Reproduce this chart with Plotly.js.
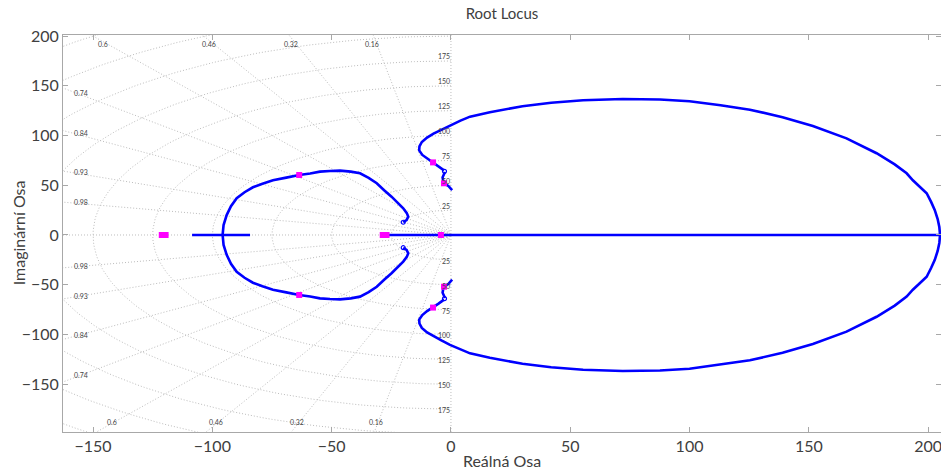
<!DOCTYPE html>
<html>
<head>
<meta charset="utf-8">
<script src="https://cdn.plot.ly/plotly-3.0.1.min.js"></script>
<style>
  html, body { margin: 0; padding: 0; background: #fff; }
  #plot { width: 941px; height: 470px; }
</style>
</head>
<body>
<div id="plot"></div>
<script>
// ---- root locus branches (real, imag) ----
// upper half of the large loop, from the end near the origin out to the real-axis crossing
const bigLoopRe = [-2.9, -5.2, -7.5, -10, -12, -13.3, -13.2, -12.2, -10, -7.3, -4, -0.4, 4, 8, 16.3, 30, 42, 55.4, 72, 87.6, 100, 113, 125.3, 139, 151.7, 165.8, 178.4, 186, 191, 193.6, 196.5, 199.4, 201.3, 202.8, 204, 204.7, 205];
const bigLoopIm = [65, 69, 73, 76.5, 80.5, 85, 89, 93.5, 98, 102, 106, 110.5, 115, 119, 123.5, 129.5, 133, 135.5, 136.7, 136.2, 134.5, 130.5, 126, 118.5, 109.5, 97.2, 82.2, 71, 62, 55, 48.5, 42, 33, 25, 16, 8, 0];

// short branch just left of the imaginary axis (upper half)
const shortRe = [-2.5, -3.5, -3.2, -2.9, -1.1, 0.3, 0.5];
const shortIm = [63.3, 58, 53.6, 52, 49.3, 46, 45];

// upper half of the left loop, from the hooked end round to the real axis
const leftLoopRe = [-20, -18.6, -17.9, -18.5, -20, -22, -24.9, -28, -31.1, -34.5, -38.1, -42, -46.5, -50.7, -54.9, -59, -63.6, -69, -74.6, -79, -83, -86.5, -89.8, -92.2, -94, -95.3, -95.7];
const leftLoopIm = [12.8, 15, 18.4, 22, 26.8, 32, 38.5, 45, 52, 57.5, 62, 63.7, 64.7, 64.4, 63.7, 61.8, 60.3, 57.7, 55, 51.5, 48, 43, 37, 29, 20, 10, 0];

// branches lying on the real axis
const realSegA = [-108.5, -84.2];
const realSegB = [-29, 205];

// highlighted closed-loop points
const markRe = [-63.6, -63.6, -7.5, -7.5, -2.9, -2.9, -4.2, -28.6, -27.0, -121.2, -119.6];
const markIm = [60.3, -60.3, 73, -73, 52, -52, 0, 0, 0, 0, 0];

// branch end points (zeros)
const zeroRe = [-20, -20, -2.7, -2.7];
const zeroIm = [12.8, -12.8, 64, -64];

// s-plane grid values
const dampings = [0.16, 0.32, 0.46, 0.6, 0.74, 0.84, 0.93, 0.98];
const natFreqs = [25, 50, 75, 100, 125, 150, 175, 200, 225, 250, 275];

// axis limits and ticks
const xRange = [-162.6, 205.4];
const yRange = [-198.1, 201.1];
const tickVals = [-150, -100, -50, 0, 50, 100, 150, 200];

const blue = '#0000ff';
const pink = '#ff00ff';
const gridStyle = {color: '#bdbdbd', width: 1, dash: '1px,2px'};

const traces = [];

// grid: natural frequency semicircles in the left half plane
natFreqs.forEach(w => {
  const xs = [], ys = [];
  for (let d = 90; d <= 270; d += 1) {
    const a = d * Math.PI / 180;
    xs.push(w * Math.cos(a));
    ys.push(w * Math.sin(a));
  }
  traces.push({x: xs, y: ys, mode: 'lines', line: gridStyle, hoverinfo: 'skip'});
});
// grid: constant damping rays
dampings.forEach(z => {
  const s = Math.sqrt(1 - z * z), R = 600;
  traces.push({x: [-R * z, 0, -R * z], y: [R * s, 0, -R * s], mode: 'lines', line: gridStyle, hoverinfo: 'skip'});
});
// grid: negative real axis and imaginary axis
traces.push({x: [xRange[0], 0], y: [0, 0], mode: 'lines', line: gridStyle, hoverinfo: 'skip'});
traces.push({x: [0, 0], y: [yRange[0], yRange[1]], mode: 'lines', line: gridStyle, hoverinfo: 'skip'});

// upper half followed by its mirror image back along the lower half
function closedBranch(re, im) {
  const back = re.slice(0, -1).reverse();
  const backIm = im.slice(0, -1).reverse().map(v => -v);
  return {xs: re.concat(back), ys: im.concat(backIm)};
}
function conjPair(re, im) {
  return [{xs: re, ys: im}, {xs: re, ys: im.map(v => -v)}];
}

const locusLine = {color: blue, width: 2.6};
const big = closedBranch(bigLoopRe, bigLoopIm);
traces.push({x: big.xs, y: big.ys, mode: 'lines', line: locusLine});
conjPair(leftLoopRe, leftLoopIm).forEach(b => traces.push({x: b.xs, y: b.ys, mode: 'lines', line: locusLine}));
conjPair(shortRe, shortIm).forEach(b => traces.push({x: b.xs, y: b.ys, mode: 'lines', line: locusLine}));
traces.push({x: realSegA, y: [0, 0], mode: 'lines', line: locusLine});
traces.push({x: realSegB, y: [0, 0], mode: 'lines', line: locusLine});

traces.push({x: zeroRe, y: zeroIm, mode: 'markers',
  marker: {symbol: 'circle-open', size: 4, color: blue, line: {width: 1.2, color: blue}}});
traces.push({x: markRe, y: markIm, mode: 'markers',
  marker: {symbol: 'square', size: 6, color: pink, line: {width: 0}}});

// grid labels
const annotations = [];
const labelFont = {family: 'Lato, sans-serif', size: 7, color: '#444444'};
const leftEdge = -155.2, topEdge = 192, bottomEdge = -188;
dampings.forEach(z => {
  const s = Math.sqrt(1 - z * z);
  const yAtLeft = -leftEdge * s / z;
  if (yAtLeft <= topEdge) {
    annotations.push({x: leftEdge, y: yAtLeft + 2, text: String(z)});
    annotations.push({x: leftEdge, y: -yAtLeft, text: String(z)});
  } else {
    annotations.push({x: -topEdge * z / s - 2, y: topEdge, text: String(z)});
    annotations.push({x: bottomEdge * z / s - 1, y: bottomEdge, text: String(z)});
  }
});
natFreqs.forEach(w => {
  if (w + 4.5 < yRange[1]) annotations.push({x: 0.6, y: w + 4.5, text: String(w), xanchor: 'right'});
  if (-w - 1 > yRange[0]) annotations.push({x: 0.6, y: -w - 1, text: String(w), xanchor: 'right'});
});
annotations.forEach(a => {
  a.xref = 'x'; a.yref = 'y'; a.showarrow = false; a.font = labelFont;
  if (!a.xanchor) a.xanchor = 'center';
  a.yanchor = 'middle';
});

const axisFont = {family: 'Lato, sans-serif', size: 16, color: '#404040'};

// y-axis title placed as a rotated label left of the tick labels
annotations.push({
  text: 'Imaginární Osa', textangle: -90, showarrow: false,
  xref: 'paper', yref: 'paper', x: -0.0513, y: 0.503,
  xanchor: 'center', yanchor: 'middle', font: axisFont
});

const axisCommon = {
  showgrid: false, zeroline: false,
  showline: true, linecolor: '#a8a8a8', linewidth: 1, mirror: 'ticks',
  ticks: 'inside', ticklen: 5, tickcolor: '#a8a8a8',
  tickfont: axisFont, ticklabeloverflow: 'allow',
  tickmode: 'array', tickvals: tickVals
};

const layout = {
  width: 941, height: 470,
  margin: {l: 63, r: 0, t: 35, b: 38},
  paper_bgcolor: '#ffffff', plot_bgcolor: '#ffffff',
  showlegend: false,
  font: {family: 'Lato, sans-serif', color: '#404040'},
  title: {text: 'Root Locus', xref: 'paper', x: 0.5, yref: 'container', y: 0.97, yanchor: 'middle',
          font: {family: 'Lato, sans-serif', size: 15, color: '#404040'}},
  xaxis: Object.assign({}, axisCommon, {range: xRange,
    title: {text: 'Reálná Osa', standoff: 2, font: axisFont}}),
  yaxis: Object.assign({}, axisCommon, {range: yRange}),
  annotations: annotations
};

Plotly.newPlot('plot', traces, layout, {displayModeBar: false, staticPlot: true});
</script>
</body>
</html>
